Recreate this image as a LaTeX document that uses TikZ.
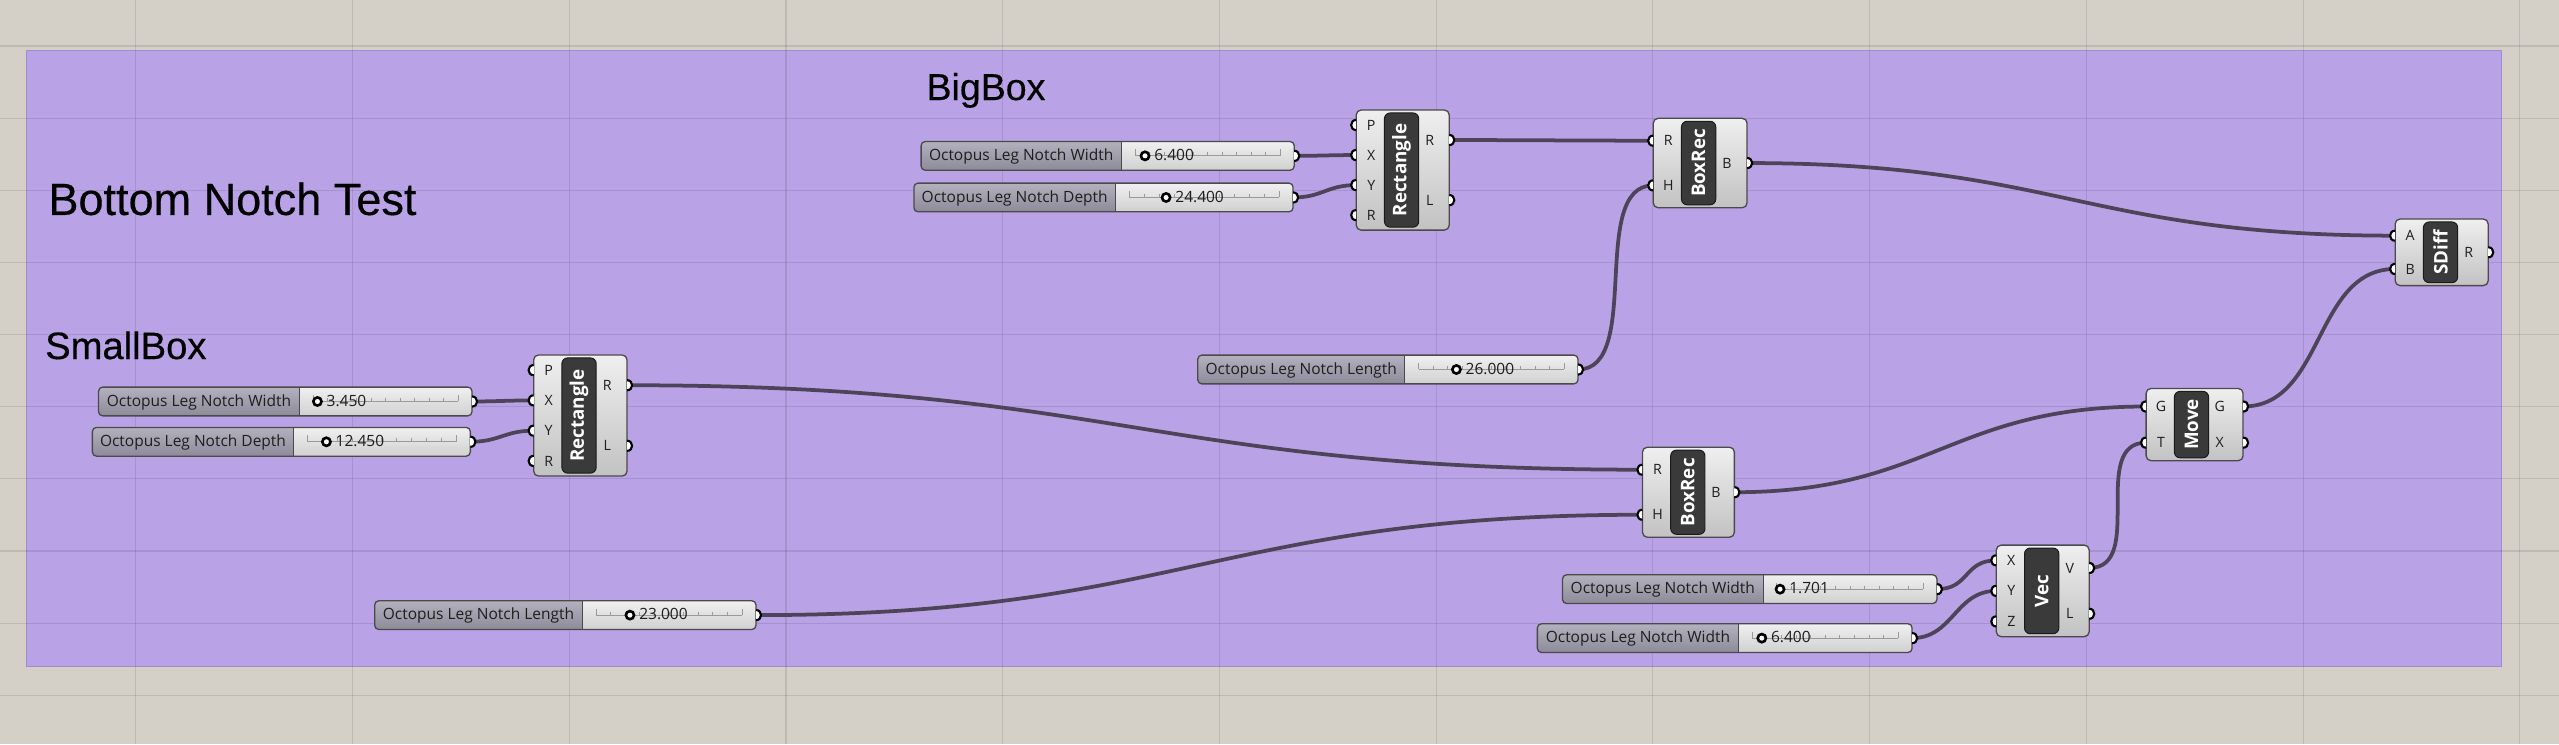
\documentclass[tikz,border=0pt]{standalone}
\usepackage{fontspec}
\setmainfont{Liberation Sans}
\newfontfamily\headfont{Liberation Sans}[FakeBold=0.4]
\newfontfamily\ghfont{Open Sans}
\pgfdeclarelayer{bglayer}
\pgfdeclarelayer{wirelayer}
\pgfsetlayers{bglayer,wirelayer,main}

\definecolor{canvasbg}{HTML}{D4D0C8}
\definecolor{groupfill}{HTML}{B9A3E6}
\definecolor{groupline}{HTML}{A08CD2}
\definecolor{wirecol}{HTML}{4D4459}
\definecolor{labtop}{HTML}{B3B1BE}
\definecolor{labbot}{HTML}{8D8B99}
\definecolor{valtop}{HTML}{F0F0F0}
\definecolor{valbot}{HTML}{D0D0D0}
\definecolor{comptop}{HTML}{EFEFEF}
\definecolor{compbot}{HTML}{C2C2C2}
\definecolor{edgecol}{HTML}{4A4A4A}
\definecolor{capfill}{HTML}{3A3A3A}
\definecolor{capedge}{HTML}{1A1A1A}
\definecolor{txtcol}{HTML}{1E1E1E}
\definecolor{trackcol}{HTML}{9A9A9A}

\tikzset{
  x=1pt, y=-1pt,
  wire/.style={draw=wirecol, line width=2.3},
  gripline/.style={draw=black, line width=1.3},
  knobline/.style={draw=black, fill=white, line width=1.6},
  trackline/.style={draw=trackcol, line width=0.6},
  slidertext/.style={font=\ghfont\fontsize{9.5}{10}\selectfont, text=txtcol, inner sep=0pt},
  porttext/.style={font=\ghfont\fontsize{8.7}{9}\selectfont, text=txtcol, inner sep=0pt},
  captext/.style={font=\ghfont\bfseries\fontsize{11.5}{12}\selectfont, text=white, inner sep=0pt, rotate=90},
  heading/.style={font=\headfont\fontsize{23}{26}\selectfont, text=black, inner sep=0pt, anchor=base west},
  gridline/.style={draw=black, draw opacity=0.1, line width=0.7},
  compbody/.style={draw=edgecol, line width=0.8, rounded corners=3, top color=comptop, bottom color=compbot, inner sep=0pt, outer sep=0pt},
  capbody/.style={draw=capedge, fill=capfill, line width=0.6, rounded corners=3.5, inner sep=0pt, outer sep=0pt},
  sliderframe/.style={draw=edgecol, line width=0.8, rounded corners=2.5, inner sep=0pt, outer sep=0pt},
}

\newcommand\gcount[1]{\gdef\gcnt{0}\foreach \gz in {#1}{\pgfmathtruncatemacro\gtmp{\gcnt+1}\global\let\gcnt\gtmp}}

\newcommand\ingrip[2]{%
  \fill[white] (#1,#2-3.1) .. controls (#1-4.13,#2-3.1) and (#1-4.13,#2+3.1) .. (#1,#2+3.1) -- cycle;
  \draw[gripline] (#1,#2-3.1) .. controls (#1-4.13,#2-3.1) and (#1-4.13,#2+3.1) .. (#1,#2+3.1);}
\newcommand\outgrip[2]{%
  \fill[white] (#1,#2-3.1) .. controls (#1+4.13,#2-3.1) and (#1+4.13,#2+3.1) .. (#1,#2+3.1) -- cycle;
  \draw[gripline] (#1,#2-3.1) .. controls (#1+4.13,#2-3.1) and (#1+4.13,#2+3.1) .. (#1,#2+3.1);}

% name, left, centre y, label end, right, label, value, knob x
\newcommand\ghslider[8]{%
  \begin{scope}
    \clip[rounded corners=2.5] (#2,#3-8.8) rectangle (#5,#3+8.8);
    \shade[top color=labtop, bottom color=labbot] (#2,#3-8.8) rectangle (#4,#3+8.8);
    \shade[top color=valtop, bottom color=valbot] (#4,#3-8.8) rectangle (#5,#3+8.8);
  \end{scope}
  \draw[draw=edgecol, line width=0.6] (#4,#3-8.8) -- (#4,#3+8.8);
  \pgfmathsetmacro\gtl{#4+8.5}%
  \pgfmathsetmacro\gtr{#5-8.5}%
  \draw[trackline] (\gtl,#3) -- (\gtr,#3);
  \draw[trackline] (\gtl,#3) -- (\gtl,#3-4);
  \draw[trackline] (\gtr,#3) -- (\gtr,#3-4);
  \foreach \k in {1,...,9}{\draw[trackline] ({\gtl+(\gtr-\gtl)*\k/10},#3) -- ({\gtl+(\gtr-\gtl)*\k/10},#3-2.2);}
  \pgfmathsetmacro\gsw{#5-#2}%
  \node[sliderframe, minimum width=\gsw pt, minimum height=17.6pt, anchor=west] (#1) at (#2,#3) {};
  \node[slidertext, anchor=base] (#1-lab) at ({(#2+#4)/2},#3+2.9) {#6};
  \draw[knobline] (#8,#3) circle[radius=2.5];
  \node[slidertext, anchor=base west] (#1-val) at (#8+5.5,#3+2.9) {#7};
  \coordinate (#1-out) at (#5,#3);
  \outgrip{#5}{#3}
}

% name, left, top, right, bottom, title, inputs, outputs
\newcommand\ghcomp[8]{%
  \pgfmathsetmacro\gcw{#4-#2}%
  \pgfmathsetmacro\gch{#5-#3}%
  \pgfmathsetmacro\gcaph{#5-#3-3.6}%
  \pgfmathsetmacro\gcx{#2+27.8}%
  \pgfmathsetmacro\gcy{(#3+#5)/2}%
  \node[compbody, minimum width=\gcw pt, minimum height=\gch pt, anchor=north west] (#1) at (#2,#3) {};
  \node[capbody, minimum width=21pt, minimum height=\gcaph pt] (#1-cap) at (\gcx,\gcy) {};
  \node[captext] (#1-title) at (\gcx,\gcy) {#6};
  \gcount{#7}\let\gnin\gcnt
  \foreach \lab [count=\i] in {#7}{%
    \pgfmathsetmacro\gpy{#3+(\i-0.5)*(#5-#3)/\gnin}%
    \coordinate (#1-in\i) at (#2,\gpy);
    \node[porttext] (#1-inl\i) at (#2+9.2,\gpy) {\lab};
    \ingrip{#2}{\gpy}
  }
  \gcount{#8}\let\gnout\gcnt
  \foreach \lab [count=\i] in {#8}{%
    \pgfmathsetmacro\gpy{#3+(\i-0.5)*(#5-#3)/\gnout}%
    \coordinate (#1-out\i) at (#4,\gpy);
    \node[porttext] (#1-outl\i) at (#2+45.1,\gpy) {\lab};
    \outgrip{#4}{\gpy}
  }
}

\begin{document}
\begin{tikzpicture}
\useasboundingbox (0,0) rectangle (1568,455.9);
\begin{pgfonlayer}{bglayer}
  \fill[canvasbg] (0,0) rectangle (1568,455.9);
  \fill[groupfill] (16,31) rectangle (1533,408.5);
  \draw[groupline, line width=0.7] (16,31) rectangle (1533,408.5);
  \foreach \k in {0,...,11}{\draw[gridline] ({83.2+132.8*\k},0) -- ({83.2+132.8*\k},455.9);}
  \foreach \k in {0,...,9}{\draw[gridline] (0,{28.2+44.2*\k}) -- (1568,{28.2+44.2*\k});}
\end{pgfonlayer}

\node[heading, font=\headfont\fontsize{27.6}{30}\selectfont] (title) at (29.5,131.7) {Bottom Notch Test};
\node[heading] (bigbox) at (567.5,61.3) {BigBox};
\node[heading, font=\headfont\fontsize{23.4}{26}\selectfont] (smallbox) at (27.5,220) {SmallBox};

\ghslider{bigW}{564.4}{95.5}{687}{793}{Octopus Leg Notch Width}{6.400}{701.6}
\ghslider{bigD}{560}{121}{683.5}{792.3}{Octopus Leg Notch Depth}{24.400}{714.5}
\ghslider{bigL}{733.9}{226.4}{860.7}{966.9}{Octopus Leg Notch Length}{26.000}{892.4}
\ghslider{smW}{60.4}{246}{183.4}{289.2}{Octopus Leg Notch Width}{3.450}{194.5}
\ghslider{smD}{56.6}{270.7}{179.9}{288.2}{Octopus Leg Notch Depth}{12.450}{200}
\ghslider{smL}{229.6}{376.9}{356.8}{463.2}{Octopus Leg Notch Length}{23.000}{386}
\ghslider{vecX}{957.4}{361}{1080.3}{1186.8}{Octopus Leg Notch Width}{1.701}{1090.7}
\ghslider{vecY}{942}{391}{1065.2}{1171.6}{Octopus Leg Notch Width}{6.400}{1079.5}

\ghcomp{rect1}{831}{67.4}{888}{141}{Rectangle}{P,X,Y,R}{R,L}
\ghcomp{boxrec1}{1013}{72.5}{1070.5}{127.3}{BoxRec}{R,H}{B}
\ghcomp{sdiff}{1467.6}{134.2}{1524.6}{175}{SDiff}{A,B}{R}
\ghcomp{rect2}{327}{217.5}{384.2}{291.7}{Rectangle}{P,X,Y,R}{R,L}
\ghcomp{boxrec2}{1006.4}{274}{1062.7}{329.2}{BoxRec}{R,H}{B}
\ghcomp{move}{1315}{238}{1374.4}{282.3}{Move}{G,T}{G,X}
\ghcomp{vec}{1223.2}{334}{1280.1}{390.1}{Vec}{X,Y,Z}{V,L}

\begin{pgfonlayer}{wirelayer}
  \draw[wire] (bigW-out) .. controls +(15,0) and +(-15,0) .. (rect1-in2);
  \draw[wire] (bigD-out) .. controls +(18,0) and +(-18,0) .. (rect1-in3);
  \draw[wire] (rect1-out1) .. controls +(40,0) and +(-40,0) .. (boxrec1-in1);
  \draw[wire] (bigL-out) .. controls +(40,0) and +(-40,0) .. (boxrec1-in2);
  \draw[wire] (boxrec1-out1) .. controls +(190,0) and +(-190,0) .. (sdiff-in1);
  \draw[wire] (smW-out) .. controls +(15,0) and +(-15,0) .. (rect2-in2);
  \draw[wire] (smD-out) .. controls +(18,0) and +(-18,0) .. (rect2-in3);
  \draw[wire] (rect2-out1) .. controls +(300,0) and +(-300,0) .. (boxrec2-in1);
  \draw[wire] (smL-out) .. controls +(260,0) and +(-260,0) .. (boxrec2-in2);
  \draw[wire] (boxrec2-out1) .. controls +(120,0) and +(-120,0) .. (move-in1);
  \draw[wire] (vec-out1) .. controls +(35,0) and +(-35,0) .. (move-in2);
  \draw[wire] (move-out1) .. controls +(50,0) and +(-50,0) .. (sdiff-in2);
  \draw[wire] (vecX-out) .. controls +(20,0) and +(-20,0) .. (vec-in1);
  \draw[wire] (vecY-out) .. controls +(25,0) and +(-25,0) .. (vec-in2);
\end{pgfonlayer}
\end{tikzpicture}
\end{document}
